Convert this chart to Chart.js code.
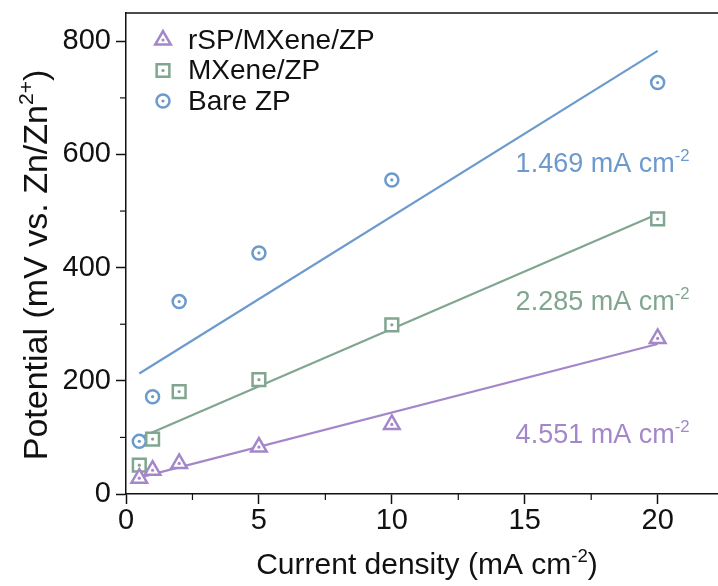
<!DOCTYPE html>
<html>
<head>
<meta charset="utf-8">
<script src="https://cdn.jsdelivr.net/npm/chart.js@4.4.0/dist/chart.umd.min.js"></script>
<style>
  html, body { margin: 0; padding: 0; background: #fff; }
</style>
</head>
<body>
<canvas id="myChart" width="718" height="586"></canvas>
<script>
// values
const currents = [0.5, 1, 2, 5, 10, 20];
const rspMxene = [28, 42, 54, 83, 123, 275];
const mxene = [51, 97, 181, 202, 299, 486];
const bareZp = [93, 172, 340, 426, 555, 727];

// linear fit end points
const fitX = [0.5, 20];
const rspFit = [29, 265];
const mxeneFit = [99, 495];
const bareFit = [213, 783];

const seriesNames = ['rSP/MXene/ZP', 'MXene/ZP', 'Bare ZP'];
const slopeTexts = ['4.551 mA cm', '2.285 mA cm', '1.469 mA cm'];
const slopeAnchorY = [90, 325, 569];
const xMinor = [2.5, 7.5, 12.5, 17.5];
const yMinor = [100, 300, 500, 700];

const purple = '#a487c9';
const green = '#80a690';
const blue = '#6d9acd';
const colors = [purple, green, blue];
const styles = ['triangle', 'rect', 'circle'];
const radii = [9, 9, 6.5];
const FONT = "'Liberation Sans', Arial, sans-serif";

Chart.defaults.font.family = FONT;
Chart.defaults.color = '#111';

function pts(xs, ys) {
  return xs.map((x, i) => ({ x: x, y: ys[i] }));
}

// text with a superscript part
function richText(ctx, parts, x, y, size, align, color) {
  const sub = size * 0.62;
  let total = 0;
  parts.forEach(p => {
    ctx.font = (p.sup ? sub : size) + 'px ' + FONT;
    p.w = ctx.measureText(p.t).width;
    total += p.w;
  });
  let cx = align === 'center' ? x - total / 2 : (align === 'right' ? x - total : x);
  ctx.fillStyle = color;
  ctx.textAlign = 'left';
  ctx.textBaseline = 'alphabetic';
  parts.forEach(p => {
    ctx.font = (p.sup ? sub : size) + 'px ' + FONT;
    ctx.fillText(p.t, cx, p.sup ? y - size * 0.4 : y);
    cx += p.w;
  });
}

const extras = {
  id: 'extras',
  afterDatasetsDraw(chart) {
    const ctx = chart.ctx;
    // centre dots of the hollow markers
    chart.data.datasets.forEach((ds, i) => {
      if (ds.showLine) return;
      chart.getDatasetMeta(i).data.forEach(el => {
        ctx.beginPath();
        ctx.fillStyle = ds.borderColor;
        ctx.arc(el.x, el.y, 1.6, 0, Math.PI * 2);
        ctx.fill();
      });
    });
  },
  afterDraw(chart) {
    const ctx = chart.ctx;
    const a = chart.chartArea;
    const xs = chart.scales.x, ys = chart.scales.y;
    ctx.save();
    // top frame
    ctx.strokeStyle = '#111';
    ctx.lineWidth = 1.5;
    ctx.beginPath();
    ctx.moveTo(a.left, a.top);
    ctx.lineTo(a.right, a.top);
    ctx.stroke();
    // minor ticks
    ctx.lineWidth = 1.2;
    xMinor.forEach(v => {
      const px = xs.getPixelForValue(v);
      ctx.beginPath();
      ctx.moveTo(px, a.bottom);
      ctx.lineTo(px, a.bottom + 6);
      ctx.stroke();
    });
    yMinor.forEach(v => {
      const py = ys.getPixelForValue(v);
      ctx.beginPath();
      ctx.moveTo(a.left, py);
      ctx.lineTo(a.left - 6, py);
      ctx.stroke();
    });

    // axis titles
    richText(ctx, [{ t: 'Current density (mA cm' }, { t: '-2', sup: true }, { t: ')' }],
      (a.left + a.right) / 2 + 5, 574, 30, 'center', '#111');
    ctx.save();
    ctx.translate(47, 265);
    ctx.rotate(-Math.PI / 2);
    richText(ctx, [{ t: 'Potential (mV vs. Zn/Zn' }, { t: '2+', sup: true }, { t: ')' }],
      0, 0, 34, 'center', '#111');
    ctx.restore();

    // legend
    seriesNames.forEach((name, i) => {
      const ly = 40 + i * 30.5;
      ctx.fillStyle = '#fff';
      ctx.strokeStyle = colors[i];
      ctx.lineWidth = 2.5;
      Chart.helpers.drawPoint(ctx, { pointStyle: styles[i], radius: radii[i], rotation: 0, borderWidth: 2.5 }, 163, ly);
      ctx.beginPath();
      ctx.fillStyle = colors[i];
      ctx.arc(163, ly, 1.6, 0, Math.PI * 2);
      ctx.fill();
      ctx.font = '28px ' + FONT;
      ctx.fillStyle = '#111';
      ctx.textAlign = 'left';
      ctx.textBaseline = 'middle';
      ctx.fillText(name, 188, ly + 1);
    });

    // slope annotations
    slopeTexts.forEach((t, i) => {
      richText(ctx, [{ t: t }, { t: '-2', sup: true }],
        xs.getPixelForValue(21.2), ys.getPixelForValue(slopeAnchorY[i]), 27, 'right', colors[i]);
    });
    ctx.restore();
  }
};

const ctx = document.getElementById('myChart');

new Chart(ctx, {
  type: 'scatter',
  data: {
    datasets: [
      { label: 'rSP/MXene/ZP fit', data: pts(fitX, rspFit), showLine: true, borderColor: purple, borderWidth: 2.2, pointRadius: 0, order: 2 },
      { label: 'MXene/ZP fit', data: pts(fitX, mxeneFit), showLine: true, borderColor: green, borderWidth: 2.2, pointRadius: 0, order: 2 },
      { label: 'Bare ZP fit', data: pts(fitX, bareFit), showLine: true, borderColor: blue, borderWidth: 2.2, pointRadius: 0, order: 2 },
      { label: seriesNames[0], data: pts(currents, rspMxene), pointStyle: 'triangle', pointRadius: 9, borderColor: purple, backgroundColor: '#fff', pointBorderWidth: 2.5, order: 0 },
      { label: seriesNames[1], data: pts(currents, mxene), pointStyle: 'rect', pointRadius: 9, borderColor: green, backgroundColor: '#fff', pointBorderWidth: 2.5, order: 0 },
      { label: seriesNames[2], data: pts(currents, bareZp), pointStyle: 'circle', pointRadius: 6.5, borderColor: blue, backgroundColor: '#fff', pointBorderWidth: 2.5, order: 0 }
    ]
  },
  options: {
    responsive: false,
    animation: false,
    events: [],
    layout: { autoPadding: false, padding: { top: 13, right: 0, left: 0, bottom: 0 } },
    plugins: {
      legend: { display: false },
      tooltip: { enabled: false }
    },
    scales: {
      x: {
        type: 'linear',
        min: 0,
        max: 22.27,
        afterFit(scale) {
          scale.height = 92;
          scale.paddingLeft = 0;
          scale.paddingRight = 0;
        },
        ticks: { stepSize: 5, includeBounds: false, font: { size: 29 }, color: '#111', padding: 0, maxRotation: 0 },
        grid: { drawOnChartArea: false, tickLength: 10, tickColor: '#111', tickWidth: 1.5 },
        border: { display: true, color: '#111', width: 1.5 }
      },
      y: {
        min: 0,
        max: 850,
        afterFit(scale) {
          scale.width = 126;
          scale.paddingTop = 0;
          scale.paddingBottom = 0;
        },
        ticks: { stepSize: 200, includeBounds: false, font: { size: 29 }, color: '#111', padding: 5 },
        grid: { drawOnChartArea: false, tickLength: 10, tickColor: '#111', tickWidth: 1.5 },
        border: { display: true, color: '#111', width: 1.5 }
      }
    }
  },
  plugins: [extras]
});
</script>
</body>
</html>
